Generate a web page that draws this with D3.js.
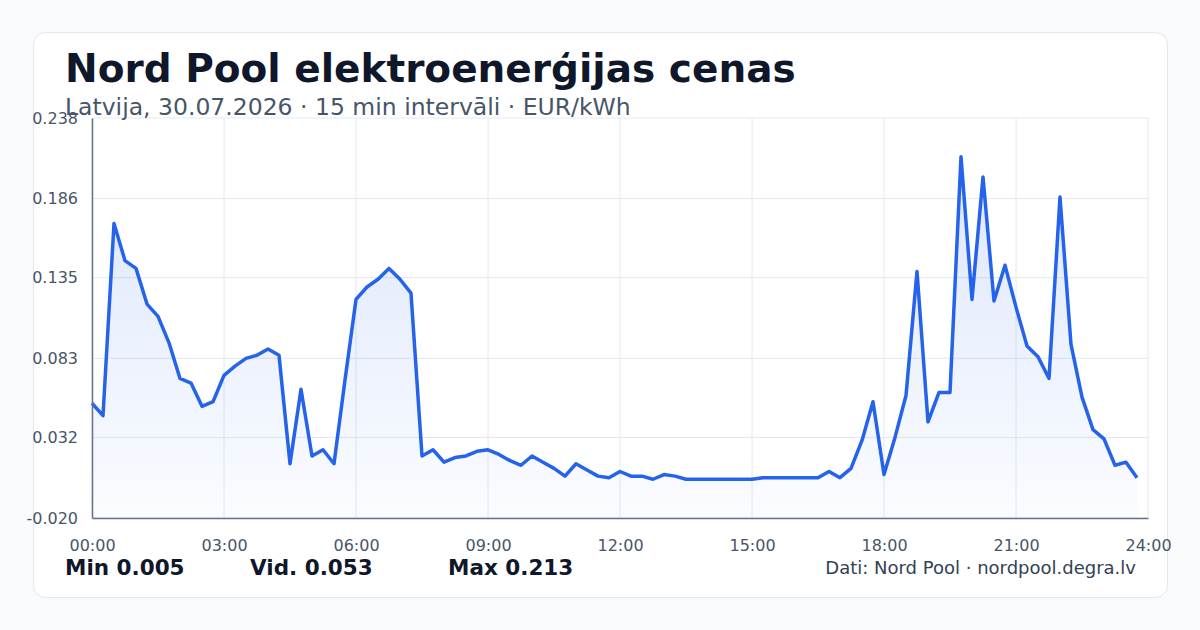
<!DOCTYPE html>
<html>
<head>
<meta charset="utf-8">
<script src="https://cdn.jsdelivr.net/npm/d3@7"></script>
<style>
  body { margin: 0; background: #f8fafc; font-family: "DejaVu Sans", sans-serif; }
</style>
</head>
<body>
<svg id="chart" width="1200" height="630"></svg>
<script>
const title = 'Nord Pool elektroenerģijas cenas'
const subtitle = 'Latvija, 30.07.2026 · 15 min intervāli · EUR/kWh'
const source = 'Dati: Nord Pool · nordpool.degra.lv'
const statLabels = ['Min 0.005', 'Vid. 0.053', 'Max 0.213']

// 96 quarter-hour prices, EUR/kWh
const prices = [
  0.054, 0.046, 0.170, 0.146, 0.141, 0.118, 0.110, 0.093,
  0.070, 0.067, 0.052, 0.055, 0.072, 0.078, 0.083, 0.085,
  0.089, 0.085, 0.015, 0.063, 0.020, 0.024, 0.015, 0.069,
  0.121, 0.129, 0.134, 0.141, 0.134, 0.125, 0.020, 0.024,
  0.016, 0.019, 0.020, 0.023, 0.024, 0.021, 0.017, 0.014,
  0.020, 0.016, 0.012, 0.007, 0.015, 0.011, 0.007, 0.006,
  0.010, 0.007, 0.007, 0.005, 0.008, 0.007, 0.005, 0.005,
  0.005, 0.005, 0.005, 0.005, 0.005, 0.006, 0.006, 0.006,
  0.006, 0.006, 0.006, 0.010, 0.006, 0.012, 0.030, 0.055,
  0.008, 0.032, 0.059, 0.139, 0.042, 0.061, 0.061, 0.213,
  0.121, 0.200, 0.120, 0.143, 0.116, 0.091, 0.084, 0.070,
  0.187, 0.092, 0.058, 0.037, 0.031, 0.014, 0.016, 0.006
]
const yTicks = [-0.020, 0.032, 0.083, 0.135, 0.186, 0.238]
const xTicks = [0, 3, 6, 9, 12, 15, 18, 21, 24]

const margin = { top: 118, right: 52, bottom: 112, left: 92 }
const width = 1200
const height = 630

const svg = d3.select('#chart')

svg.append('rect')
  .attr('x', 33.5).attr('y', 32.5).attr('width', 1134).attr('height', 565)
  .attr('rx', 12).attr('fill', '#fff').attr('stroke', '#e2e8f0')

const x = d3.scaleLinear().domain([0, 24]).range([margin.left, width - margin.right])
const y = d3.scaleLinear().domain([-0.020, 0.238]).range([height - margin.bottom, margin.top])

// grid
svg.append('g')
  .selectAll('line')
  .data(yTicks)
  .enter()
  .append('line')
  .attr('x1', x(0)).attr('x2', x(24))
  .attr('y1', d => y(d)).attr('y2', d => y(d))
  .attr('stroke', '#e2e8f0')
svg.append('g')
  .selectAll('line')
  .data(xTicks)
  .enter()
  .append('line')
  .attr('y1', y(-0.02)).attr('y2', y(0.238))
  .attr('x1', d => x(d)).attr('x2', d => x(d))
  .attr('stroke', '#e2e8f0')

const defs = svg.append('defs')
const grad = defs.append('linearGradient').attr('id', 'fillGrad')
  .attr('x1', 0).attr('x2', 0).attr('y1', 0).attr('y2', 1)
grad.append('stop').attr('offset', '0%').attr('stop-color', '#2563eb').attr('stop-opacity', 0.16)
grad.append('stop').attr('offset', '100%').attr('stop-color', '#2563eb').attr('stop-opacity', 0.02)

const t = (d, i) => x(i * 0.25)

svg.append('path')
  .datum(prices)
  .attr('d', d3.area().x(t).y0(y(-0.02)).y1(d => y(d)))
  .attr('fill', 'url(#fillGrad)')

svg.append('path')
  .datum(prices)
  .attr('d', d3.line().x(t).y(d => y(d)))
  .attr('fill', 'none')
  .attr('stroke', '#2563eb')
  .attr('stroke-width', 3.5)
  .attr('stroke-linejoin', 'round')

// axes
const yAxis = svg.append('g')
  .attr('transform', `translate(${margin.left},0)`)
  .call(d3.axisLeft(y).tickValues(yTicks).tickFormat(d => d.toFixed(3)).tickSize(0).tickPadding(14))
const xAxis = svg.append('g')
  .attr('transform', `translate(0,${y(-0.02)})`)
  .call(d3.axisBottom(x).tickValues(xTicks).tickFormat(d => String(d).padStart(2, '0') + ':00').tickSize(0).tickPadding(22))
;[yAxis, xAxis].forEach(a => {
  a.select('.domain').attr('stroke', '#64748b').attr('stroke-width', 1.5)
  a.selectAll('text').attr('fill', '#475569').style('font-size', '16px').style('font-family', '"DejaVu Sans", sans-serif')
})

svg.append('text').attr('x', 65).attr('y', 82).text(title)
  .attr('fill', '#0f172a').style('font-size', '39px').style('font-weight', 'bold')
svg.append('text').attr('x', 65).attr('y', 115).text(subtitle)
  .attr('fill', '#475569').style('font-size', '23.5px')

svg.selectAll('text.stat')
  .data(statLabels)
  .enter()
  .append('text')
  .attr('class', 'stat')
  .attr('x', (d, i) => [65, 250, 448][i])
  .attr('y', 575)
  .text(d => d)
  .attr('fill', '#0f172a').style('font-size', '21.5px').style('font-weight', 'bold')

svg.append('text').attr('x', 1136).attr('y', 574).attr('text-anchor', 'end').text(source)
  .attr('fill', '#334155').style('font-size', '18px')
</script>
</body>
</html>
